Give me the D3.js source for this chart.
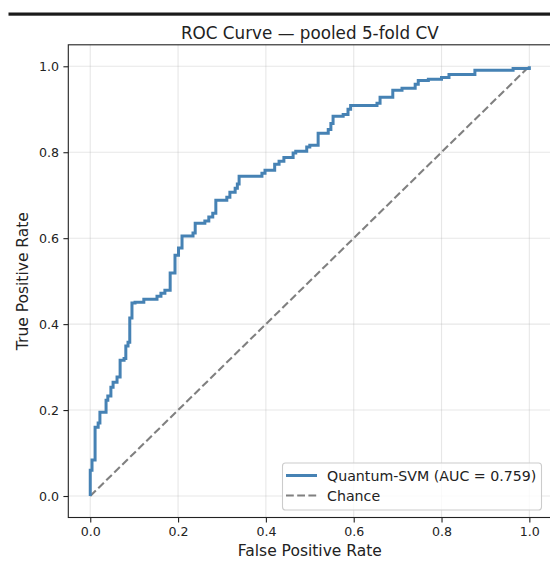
<!DOCTYPE html>
<html>
<head>
<meta charset="utf-8">
<script src="https://cdn.jsdelivr.net/npm/d3@7"></script>
<style>
  html, body { margin: 0; padding: 0; background: #fff; }
  svg { display: block; font-family: "DejaVu Sans", sans-serif; }
</style>
</head>
<body>
<svg id="chart" width="550" height="561"></svg>
<script>
// ROC vertices (top of each vertical rise)
const fpr = [0, 0, 0.004, 0.011, 0.018, 0.022, 0.036, 0.040, 0.047, 0.052, 0.061, 0.068, 0.077, 0.081, 0.086, 0.090, 0.095, 0.102, 0.122, 0.152, 0.161, 0.170, 0.182, 0.193, 0.201, 0.209, 0.234, 0.239, 0.261, 0.270, 0.279, 0.286, 0.311, 0.318, 0.330, 0.335, 0.339, 0.391, 0.398, 0.420, 0.430, 0.441, 0.462, 0.468, 0.493, 0.500, 0.519, 0.542, 0.548, 0.553, 0.576, 0.587, 0.593, 0.653, 0.660, 0.689, 0.710, 0.740, 0.747, 0.770, 0.800, 0.817, 0.876, 0.963, 1.0];
const tpr = [0, 0.060, 0.084, 0.160, 0.170, 0.195, 0.223, 0.233, 0.253, 0.265, 0.277, 0.316, 0.320, 0.349, 0.358, 0.414, 0.449, 0.451, 0.458, 0.465, 0.472, 0.479, 0.519, 0.560, 0.577, 0.605, 0.612, 0.635, 0.640, 0.649, 0.658, 0.688, 0.695, 0.707, 0.716, 0.726, 0.744, 0.751, 0.758, 0.772, 0.779, 0.788, 0.798, 0.802, 0.812, 0.816, 0.844, 0.853, 0.867, 0.884, 0.888, 0.900, 0.909, 0.914, 0.928, 0.944, 0.949, 0.958, 0.967, 0.970, 0.974, 0.981, 0.991, 0.995, 1.0];
const chanceX = [0, 1];
const chanceY = [0, 1];
const tickValues = [0.0, 0.2, 0.4, 0.6, 0.8, 1.0];
const tickLabels = ["0.0", "0.2", "0.4", "0.6", "0.8", "1.0"];
const titleText = "ROC Curve \u2014 pooled 5-fold CV";
const xLabel = "False Positive Rate";
const yLabel = "True Positive Rate";
const seriesNames = ["Quantum-SVM (AUC = 0.759)", "Chance"];

const svg = d3.select("#chart");
const L = 68.3, R = 551.3, T = 44.8, B = 517.5;
const x = d3.scaleLinear().domain([-0.05, 1.05]).range([L, R]);
const y = d3.scaleLinear().domain([-0.05, 1.05]).range([B, T]);

// top dark bar
svg.append("rect").attr("x", 8.5).attr("y", 12.5).attr("width", 550).attr("height", 3.2).attr("fill", "#1a1a1a");

// grid
const grid = svg.append("g");
tickValues.forEach(v => {
  grid.append("line").attr("x1", x(v)).attr("x2", x(v)).attr("y1", T).attr("y2", B)
    .attr("stroke", "#b0b0b0").attr("stroke-opacity", 0.3).attr("stroke-width", 1.1);
  grid.append("line").attr("y1", y(v)).attr("y2", y(v)).attr("x1", L).attr("x2", R)
    .attr("stroke", "#b0b0b0").attr("stroke-opacity", 0.3).attr("stroke-width", 1.1);
});

// chance diagonal
const lineGen = d3.line().x(d => x(d[0])).y(d => y(d[1]));
svg.append("path").datum(d3.zip(chanceX, chanceY)).attr("d", lineGen)
  .attr("fill", "none").attr("stroke", "#808080").attr("stroke-width", 2.1)
  .attr("stroke-dasharray", "7.8,3.4");

// ROC curve
const stepGen = d3.line().x(d => x(d[0])).y(d => y(d[1])).curve(d3.curveStepAfter);
svg.append("path").datum(d3.zip(fpr, tpr)).attr("d", stepGen)
  .attr("fill", "none").attr("stroke", "#4682b4").attr("stroke-width", 3.0)
  .attr("stroke-linejoin", "miter");

// axes
const xAxis = d3.axisBottom(x).tickValues(tickValues).tickFormat((d, i) => tickLabels[i]).tickSize(4.9).tickPadding(4.5);
const yAxis = d3.axisLeft(y).tickValues(tickValues).tickFormat((d, i) => tickLabels[i]).tickSize(4.9).tickPadding(4.5);
const gx = svg.append("g").attr("transform", `translate(0,${B})`).call(xAxis);
const gy = svg.append("g").attr("transform", `translate(${L},0)`).call(yAxis);
[gx, gy].forEach(g => {
  g.select(".domain").remove();
  g.selectAll(".tick line").attr("stroke", "#222").attr("stroke-width", 1.1);
  g.selectAll(".tick text").attr("fill", "#222").style("font-size", "12.6px").style("font-family", "DejaVu Sans");
});

// spines
svg.append("rect").attr("x", L).attr("y", T).attr("width", R - L).attr("height", B - T)
  .attr("fill", "none").attr("stroke", "#222").attr("stroke-width", 1.1);

// title and labels
svg.append("text").attr("x", (L + R) / 2).attr("y", 38.5).attr("text-anchor", "middle")
  .style("font-size", "16.8px").attr("fill", "#222").text(titleText);
svg.append("text").attr("x", (L + R) / 2).attr("y", 556).attr("text-anchor", "middle")
  .style("font-size", "15.5px").attr("fill", "#222").text(xLabel);
svg.append("text").attr("transform", `translate(28,${(T + B) / 2}) rotate(-90)`).attr("text-anchor", "middle")
  .style("font-size", "15.5px").attr("fill", "#222").text(yLabel);

// legend
const lg = svg.append("g");
lg.append("rect").attr("x", 282.5).attr("y", 463).attr("width", 259).attr("height", 47).attr("rx", 3)
  .attr("fill", "#fff").attr("fill-opacity", 0.8).attr("stroke", "#cccccc").attr("stroke-width", 1.1);
lg.append("line").attr("x1", 286).attr("x2", 317).attr("y1", 475.5).attr("y2", 475.5)
  .attr("stroke", "#4682b4").attr("stroke-width", 3.0);
lg.append("line").attr("x1", 286).attr("x2", 317).attr("y1", 495.5).attr("y2", 495.5)
  .attr("stroke", "#808080").attr("stroke-width", 2.1).attr("stroke-dasharray", "7.8,3.4");
lg.append("text").attr("x", 327).attr("y", 480.5).style("font-size", "14.2px").attr("fill", "#222").text(seriesNames[0]);
lg.append("text").attr("x", 327).attr("y", 500.5).style("font-size", "14.2px").attr("fill", "#222").text(seriesNames[1]);
</script>
</body>
</html>
